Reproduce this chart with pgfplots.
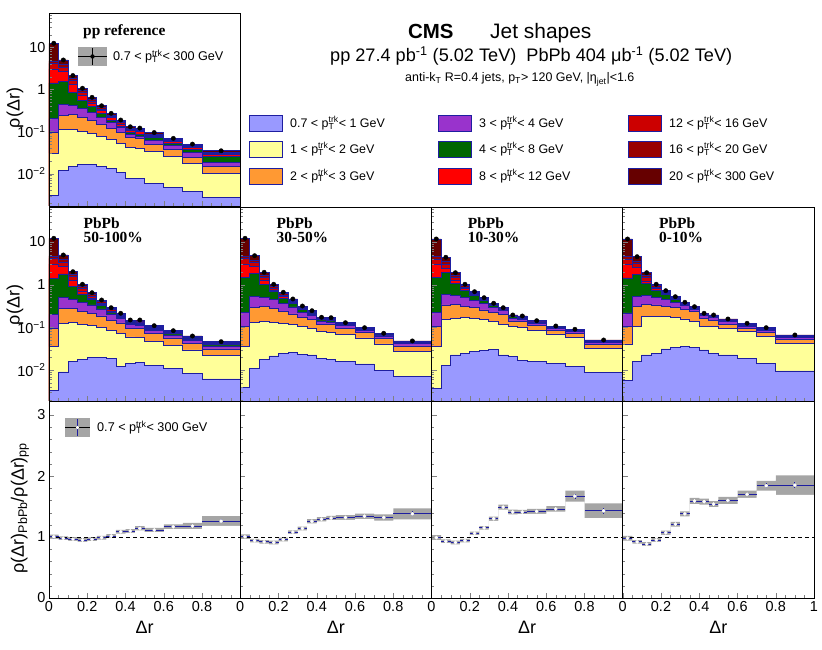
\documentclass[border=0pt]{standalone}
\usepackage{fontspec}
\setmainfont{Liberation Sans}
\newfontfamily\tms{Liberation Serif}
\usepackage{pgfplots}
\pgfplotsset{compat=1.18}
\usepackage{pgfplotstable}

\definecolor{c1}{RGB}{153,153,255}
\definecolor{c2}{RGB}{255,255,153}
\definecolor{c3}{RGB}{255,153,51}
\definecolor{c4}{RGB}{153,51,204}
\definecolor{c5}{RGB}{0,102,0}
\definecolor{c6}{RGB}{255,0,0}
\definecolor{c7}{RGB}{204,0,0}
\definecolor{c8}{RGB}{153,0,0}
\definecolor{c9}{RGB}{102,0,0}
\definecolor{nav}{RGB}{30,30,160}
\definecolor{syst}{RGB}{165,165,165}

\newcommand{\fs}[1]{\fontsize{#1}{#1}\selectfont}
\newcommand{\ptrk}{p\rlap{\textsubscript{T}}\textsuperscript{trk}}

% pp reference: cumulative stack tops L1..L9
\pgfplotstableread{
x xc L1 L2 L3 L4 L5 L6 L7 L8 L9
0 nan 0.0005 0.0005 0.0005 0.0005 0.0005 0.0005 0.0005 0.0005 0.0005
0 0.025 0.00308 0.0308 0.0947 0.204 1.43 3.08 4.16 4.77 12.59
0.05 0.075 0.0121 0.1147 0.247 0.439 1.59 2.76 3.43 3.94 5.04
0.10 0.125 0.0151 0.1116 0.261 0.428 0.872 1.35 1.64 1.83 2.15
0.15 0.175 0.0164 0.1028 0.221 0.363 0.562 0.740 0.872 0.947 1.07
0.20 0.225 0.0164 0.0896 0.183 0.291 0.394 0.477 0.532 0.578 0.652
0.25 0.275 0.0151 0.0781 0.151 0.221 0.268 0.316 0.343 0.373 0.411
0.30 0.325 0.0132 0.0645 0.118 0.164 0.183 0.215 0.234 0.247 0.271
0.35 0.375 0.0109 0.0532 0.0973 0.1245 0.1316 0.151 0.164 0.173 0.188
0.40 0.425 0.00781 0.0416 0.0720 0.0872 0.0947 0.1057 0.1147 0.121 0.130
0.45 0.475 0.00760 0.0405 0.0681 0.0781 0.0872 0.100 0.1057 0.1116 0.121
0.50 0.55 0.00594 0.0334 0.0504 0.0610 0.0720 0.0781 0.0825 0.0872 0.0947
0.60 0.65 0.00464 0.0254 0.0373 0.0464 0.0532 0.0578 0.0610 0.0645 0.0689
0.70 0.75 0.00373 0.0178 0.0247 0.0325 0.0383 0.0416 0.0444 0.0469 0.0504
0.80 0.90 0.00276 0.0103 0.0151 0.0188 0.0261 0.0291 0.0308 0.0325 0.0349
1.00 nan 0.00276 0.0103 0.0151 0.0188 0.0261 0.0291 0.0308 0.0325 0.0349
1.00 nan 0.0005 0.0005 0.0005 0.0005 0.0005 0.0005 0.0005 0.0005 0.0005
}\pptab

% PbPb 50-100%
\pgfplotstableread{
x xc L1 L2 L3 L4 L5 L6 L7 L8 L9
0 nan 0.0005 0.0005 0.0005 0.0005 0.0005 0.0005 0.0005 0.0005 0.0005
0 0.025 0.00342 0.0353 0.0953 0.2026 1.374 3.05 4.11 4.70 12.2
0.05 0.075 0.00903 0.1247 0.2846 0.501 1.781 2.74 3.40 3.89 4.96
0.10 0.125 0.0163 0.1288 0.274 0.445 0.898 1.275 1.539 1.715 2.016
0.15 0.175 0.0179 0.1201 0.242 0.393 0.606 0.712 0.837 0.907 1.022
0.20 0.225 0.0195 0.1096 0.2116 0.335 0.450 0.478 0.532 0.577 0.650
0.25 0.275 0.0195 0.0984 0.185 0.270 0.326 0.338 0.367 0.398 0.438
0.30 0.325 0.0189 0.0869 0.149 0.206 0.229 0.242 0.257 0.273 0.289
0.35 0.375 0.01247 0.0727 0.1268 0.1616 0.175 0.184 0.193 0.204 0.214
0.40 0.425 0.01443 0.0596 0.0968 0.1169 0.1268 0.1316 0.1374 0.1427 0.149
0.45 0.475 0.01523 0.0580 0.0942 0.1108 0.1201 0.1268 0.1338 0.1412 0.149
0.50 0.55 0.01316 0.0480 0.0720 0.0846 0.0917 0.0958 0.1000 0.1050 0.1096
0.60 0.65 0.01102 0.0387 0.0565 0.0664 0.0720 0.0747 0.0776 0.0806 0.0837
0.70 0.75 0.00842 0.0296 0.0420 0.0493 0.0535 0.0556 0.0580 0.0603 0.0629
0.80 0.90 0.00619 0.0220 0.0312 0.0367 0.0398 0.0413 0.0429 0.0445 0.0463
1.00 nan 0.00619 0.0220 0.0312 0.0367 0.0398 0.0413 0.0429 0.0445 0.0463
1.00 nan 0.0005 0.0005 0.0005 0.0005 0.0005 0.0005 0.0005 0.0005 0.0005
}\pbAtab

% PbPb 30-50%
\pgfplotstableread{
x xc L1 L2 L3 L4 L5 L6 L7 L8 L9
0 nan 0.0005 0.0005 0.0005 0.0005 0.0005 0.0005 0.0005 0.0005 0.0005
0 0.025 0.00396 0.0353 0.1039 0.221 1.498 3.05 4.11 4.70 12.2
0.05 0.075 0.01102 0.1316 0.2957 0.521 1.849 2.640 3.275 3.75 4.78
0.10 0.125 0.0179 0.1360 0.3055 0.496 1.000 1.234 1.490 1.660 1.951
0.15 0.175 0.0214 0.1316 0.277 0.450 0.693 0.751 0.837 0.907 1.022
0.20 0.225 0.0247 0.1247 0.2357 0.363 0.488 0.526 0.565 0.612 0.664
0.25 0.275 0.0261 0.1169 0.206 0.3004 0.363 0.385 0.411 0.436 0.4625
0.30 0.325 0.0234 0.1050 0.1705 0.229 0.2626 0.2756 0.288 0.302 0.317
0.35 0.375 0.0226 0.0942 0.1531 0.190 0.206 0.2151 0.2245 0.236 0.246
0.40 0.425 0.0189 0.0823 0.1201 0.1412 0.1507 0.1556 0.1607 0.1669 0.1724
0.45 0.475 0.0179 0.0780 0.1169 0.1338 0.1427 0.149 0.1548 0.1616 0.1687
0.50 0.55 0.0157 0.0682 0.0968 0.1108 0.1169 0.1195 0.1227 0.1254 0.1288
0.60 0.65 0.0139 0.0565 0.0760 0.0869 0.0917 0.0932 0.0948 0.0968 0.0984
0.70 0.75 0.01005 0.0409 0.0550 0.0629 0.0664 0.0678 0.0693 0.0712 0.0727
0.80 0.90 0.00727 0.0273 0.0367 0.0418 0.0441 0.0450 0.0460 0.0473 0.0482
1.00 nan 0.00727 0.0273 0.0367 0.0418 0.0441 0.0450 0.0460 0.0473 0.0482
1.00 nan 0.0005 0.0005 0.0005 0.0005 0.0005 0.0005 0.0005 0.0005 0.0005
}\pbBtab

% PbPb 10-30%
\pgfplotstableread{
x xc L1 L2 L3 L4 L5 L6 L7 L8 L9
0 nan 0.0005 0.0005 0.0005 0.0005 0.0005 0.0005 0.0005 0.0005 0.0005
0 0.025 0.00375 0.0353 0.1039 0.221 1.498 2.940 3.955 4.525 11.76
0.05 0.075 0.01316 0.1548 0.335 0.589 1.931 2.422 3.004 3.44 4.38
0.10 0.125 0.0226 0.1633 0.3475 0.565 1.078 1.241 1.458 1.625 1.910
0.15 0.175 0.0247 0.1687 0.317 0.501 0.751 0.810 0.874 0.942 1.022
0.20 0.225 0.0270 0.1633 0.289 0.4335 0.568 0.596 0.622 0.653 0.686
0.25 0.275 0.0285 0.1548 0.2556 0.363 0.4335 0.448 0.465 0.480 0.496
0.30 0.325 0.0307 0.1360 0.2257 0.2957 0.335 0.342 0.351 0.359 0.367
0.35 0.375 0.0226 0.1201 0.2026 0.2447 0.2654 0.271 0.277 0.283 0.289
0.40 0.425 0.0206 0.1039 0.1412 0.166 0.177 0.181 0.1859 0.190 0.1952
0.45 0.475 0.01724 0.0984 0.1360 0.1556 0.166 0.1705 0.175 0.180 0.185
0.50 0.55 0.0157 0.0837 0.1108 0.1247 0.1316 0.1345 0.1374 0.1404 0.1435
0.60 0.65 0.01443 0.0701 0.0869 0.0968 0.1022 0.1033 0.1050 0.1061 0.1078
0.70 0.75 0.01247 0.0580 0.0720 0.0802 0.0846 0.0860 0.0874 0.0888 0.0903
0.80 0.90 0.00869 0.0317 0.0404 0.0450 0.0475 0.0483 0.0491 0.0499 0.0507
1.00 nan 0.00869 0.0317 0.0404 0.0450 0.0475 0.0483 0.0491 0.0499 0.0507
1.00 nan 0.0005 0.0005 0.0005 0.0005 0.0005 0.0005 0.0005 0.0005 0.0005
}\pbCtab

% PbPb 0-10%
\pgfplotstableread{
x xc L1 L2 L3 L4 L5 L6 L7 L8 L9
0 nan 0.0005 0.0005 0.0005 0.0005 0.0005 0.0005 0.0005 0.0005 0.0005
0 0.025 0.00586 0.0409 0.1078 0.2175 1.435 2.940 3.955 4.525 11.76
0.05 0.075 0.0157 0.1078 0.3055 0.5236 1.715 2.501 3.103 3.55 4.525
0.10 0.125 0.0226 0.178 0.3475 0.550 1.050 1.221 1.458 1.625 1.910
0.15 0.175 0.0247 0.178 0.335 0.515 0.751 0.810 0.874 0.942 1.022
0.20 0.225 0.0312 0.178 0.3055 0.445 0.583 0.6155 0.650 0.686 0.724
0.25 0.275 0.0342 0.1724 0.289 0.389 0.4575 0.4726 0.491 0.507 0.5236
0.30 0.325 0.0353 0.1573 0.2654 0.3205 0.351 0.359 0.3687 0.377 0.387
0.35 0.375 0.0335 0.1360 0.2331 0.2669 0.2846 0.289 0.294 0.3004 0.3055
0.40 0.425 0.0296 0.1078 0.1633 0.187 0.1994 0.2026 0.206 0.2104 0.214
0.45 0.475 0.0247 0.1039 0.149 0.1687 0.180 0.184 0.187 0.191 0.1952
0.50 0.55 0.0226 0.0953 0.1201 0.1353 0.1427 0.1458 0.1498 0.1531 0.1573
0.60 0.65 0.0189 0.0793 0.0953 0.1061 0.1120 0.1151 0.1182 0.1214 0.1247
0.70 0.75 0.01443 0.0606 0.0768 0.0846 0.0893 0.0912 0.0937 0.0958 0.0984
0.80 0.90 0.00953 0.0424 0.0527 0.0580 0.0612 0.0626 0.0636 0.0650 0.0664
1.00 nan 0.00953 0.0424 0.0527 0.0580 0.0612 0.0626 0.0636 0.0650 0.0664
1.00 nan 0.0005 0.0005 0.0005 0.0005 0.0005 0.0005 0.0005 0.0005 0.0005
}\pbDtab

% Ratios PbPb/pp: value y, stat. error es, systematic box hi/lo
\pgfplotstableread{
xl xc xe y es hi lo
0 0.025 0.025 1.005 0.03 1.040 0.970
0.05 0.075 0.025 0.979 0.02 1.009 0.949
0.10 0.125 0.025 0.967 0.015 0.997 0.937
0.15 0.175 0.025 0.951 0.015 0.981 0.921
0.20 0.225 0.025 0.962 0.015 0.992 0.932
0.25 0.275 0.025 0.989 0.015 1.019 0.959
0.30 0.325 0.025 1.016 0.015 1.046 0.986
0.35 0.375 0.025 1.087 0.015 1.117 1.057
0.40 0.425 0.025 1.098 0.015 1.128 1.068
0.45 0.475 0.025 1.143 0.03 1.178 1.108
0.50 0.55 0.05 1.115 0.015 1.150 1.080
0.60 0.65 0.05 1.169 0.02 1.209 1.129
0.70 0.75 0.05 1.180 0.04 1.230 1.130
0.80 0.90 0.10 1.262 0.04 1.342 1.182
1.00 nan 0 1.262 0 1.342 1.182
}\rAtab
\pgfplotstableread{
xl xc xe y es hi lo
0 0.025 0.025 1.005 0.02 1.045 0.965
0.05 0.075 0.025 0.94 0.015 0.97 0.91
0.10 0.125 0.025 0.92 0.015 0.95 0.89
0.15 0.175 0.025 0.91 0.015 0.94 0.88
0.20 0.225 0.025 0.96 0.015 0.99 0.93
0.25 0.275 0.025 1.08 0.015 1.11 1.05
0.30 0.325 0.025 1.14 0.015 1.17 1.11
0.35 0.375 0.025 1.26 0.015 1.295 1.225
0.40 0.425 0.025 1.29 0.015 1.325 1.255
0.45 0.475 0.025 1.31 0.015 1.345 1.275
0.50 0.55 0.05 1.32 0.015 1.36 1.28
0.60 0.65 0.05 1.34 0.02 1.385 1.295
0.70 0.75 0.05 1.32 0.025 1.37 1.27
0.80 0.90 0.10 1.38 0.04 1.47 1.29
1.00 nan 0 1.38 0 1.47 1.29
}\rBtab
\pgfplotstableread{
xl xc xe y es hi lo
0 0.025 0.025 0.99 0.02 1.03 0.95
0.05 0.075 0.025 0.93 0.015 0.96 0.90
0.10 0.125 0.025 0.91 0.015 0.94 0.88
0.15 0.175 0.025 0.94 0.015 0.97 0.91
0.20 0.225 0.025 1.06 0.015 1.09 1.03
0.25 0.275 0.025 1.15 0.015 1.18 1.12
0.30 0.325 0.025 1.30 0.015 1.335 1.265
0.35 0.375 0.025 1.49 0.015 1.53 1.45
0.40 0.425 0.025 1.41 0.015 1.45 1.37
0.45 0.475 0.025 1.41 0.015 1.445 1.375
0.50 0.55 0.05 1.42 0.015 1.46 1.38
0.60 0.65 0.05 1.46 0.02 1.505 1.415
0.70 0.75 0.05 1.67 0.04 1.76 1.58
0.80 0.90 0.10 1.43 0.05 1.55 1.31
1.00 nan 0 1.43 0 1.55 1.31
}\rCtab
\pgfplotstableread{
xl xc xe y es hi lo
0 0.025 0.025 0.98 0.02 1.02 0.94
0.05 0.075 0.025 0.92 0.015 0.95 0.89
0.10 0.125 0.025 0.885 0.015 0.915 0.855
0.15 0.175 0.025 0.95 0.015 0.98 0.92
0.20 0.225 0.025 1.07 0.015 1.105 1.035
0.25 0.275 0.025 1.21 0.015 1.25 1.17
0.30 0.325 0.025 1.38 0.015 1.42 1.34
0.35 0.375 0.025 1.59 0.02 1.64 1.54
0.40 0.425 0.025 1.58 0.015 1.63 1.53
0.45 0.475 0.025 1.54 0.02 1.59 1.49
0.50 0.55 0.05 1.60 0.02 1.66 1.54
0.60 0.65 0.05 1.70 0.02 1.76 1.64
0.70 0.75 0.05 1.84 0.04 1.92 1.76
0.80 0.90 0.10 1.85 0.05 2.01 1.69
1.00 nan 0 1.85 0 2.01 1.69
}\rDtab

\pgfplotsset{
  jsStk/.style={const plot, draw=nav, line width=0.8pt, mark=none, forget plot},
  jsBase/.style={scale only axis, width=191.25bp, xmin=0, xmax=1,
    tick align=inside, xtick pos=left, ytick pos=left, axis on top,
    axis line style={line width=0.8pt},
    major tick length=5bp, minor tick length=2.5bp,
    xtick={0,0.2,0.4,0.6,0.8,1}, minor x tick num=3, xticklabels={},
    tick label style={font={\fs{14.5}}}},
  jsLogTicks/.style={ytick={0.01,0.1,1,10},
    minor ytick={0.002,0.003,0.004,0.005,0.006,0.007,0.008,0.009,0.02,0.03,0.04,0.05,0.06,0.07,0.08,0.09,0.2,0.3,0.4,0.5,0.6,0.7,0.8,0.9,2,3,4,5,6,7,8,9,20,30,40,50,60}},
  jsRat/.style={height=197bp, ymin=0, ymax=3.23, ytick={0,1,2,3},
    minor y tick num=4},
}

\newcommand{\stack}[1]{%
  \addplot[jsStk, fill=c9] table[x=x, y=L9] {#1};
  \addplot[jsStk, fill=c8] table[x=x, y=L8] {#1};
  \addplot[jsStk, fill=c7] table[x=x, y=L7] {#1};
  \addplot[jsStk, fill=c6] table[x=x, y=L6] {#1};
  \addplot[jsStk, fill=c5] table[x=x, y=L5] {#1};
  \addplot[jsStk, fill=c4] table[x=x, y=L4] {#1};
  \addplot[jsStk, fill=c3] table[x=x, y=L3] {#1};
  \addplot[jsStk, fill=c2] table[x=x, y=L2] {#1};
  \addplot[jsStk, fill=c1] table[x=x, y=L1] {#1};
  \addplot[only marks, mark=*, mark size=2.2bp, black] table[x=xc, y=L9] {#1};
}

\newcommand{\ratio}[1]{%
  \addplot[const plot, fill=syst, draw=none, forget plot] table[x=xl, y=hi] {#1} \closedcycle;
  \addplot[const plot, fill=white, draw=none, forget plot] table[x=xl, y=lo] {#1} \closedcycle;
  \addplot[black, line width=0.7pt, dash pattern=on 4bp off 3bp, forget plot] coordinates {(0,1) (1,1)};
  \addplot[only marks, mark=*, mark size=1.6bp, mark options={fill=white, draw=white},
    error bars/.cd, x dir=both, x explicit, y dir=both, y explicit, error mark=none,
    error bar style={color=nav, line width=0.8pt}]
    table[x=xc, y=y, x error=xe, y error=es] {#1};
}

\newcommand{\legbox}[4]{%
  \begin{scope}[shift={(#1bp,#2bp)}]
    \filldraw[fill=#3, draw=nav, line width=0.9pt] (0,-8bp) rectangle (33bp,8bp);
    \node[anchor=west, font={\fs{12.5}}, inner sep=0pt] at (41bp,0) {#4};
  \end{scope}}

\begin{document}
\begin{tikzpicture}
\useasboundingbox (0,0) rectangle (822bp,650bp);

% top row: pp reference
\begin{axis}[jsBase, ymode=log, jsLogTicks, height=193bp, ymin=0.0017, ymax=66,
  yticklabels={10\textsuperscript{−2},10\textsuperscript{−1},1,10},
  at={(49bp,444bp)}, anchor=south west]
\stack{\pptab}
\end{axis}

% middle row: PbPb
\begin{axis}[jsBase, ymode=log, jsLogTicks, height=194bp, ymin=0.00189, ymax=66,
  yticklabels={10\textsuperscript{−2},10\textsuperscript{−1},1,10},
  at={(49bp,249bp)}, anchor=south west]
\stack{\pbAtab}
\end{axis}
\begin{axis}[jsBase, ymode=log, jsLogTicks, height=194bp, ymin=0.00189, ymax=66,
  yticklabels={}, at={(240.25bp,249bp)}, anchor=south west]
\stack{\pbBtab}
\end{axis}
\begin{axis}[jsBase, ymode=log, jsLogTicks, height=194bp, ymin=0.00189, ymax=66,
  yticklabels={}, at={(431.5bp,249bp)}, anchor=south west]
\stack{\pbCtab}
\end{axis}
\begin{axis}[jsBase, ymode=log, jsLogTicks, height=194bp, ymin=0.00189, ymax=66,
  yticklabels={}, at={(622.75bp,249bp)}, anchor=south west]
\stack{\pbDtab}
\end{axis}

% bottom row: ratios
\begin{axis}[jsBase, jsRat, yticklabels={0,1,2,3}, xticklabels={0,0.2,0.4,0.6,0.8,{}},
  at={(49bp,52bp)}, anchor=south west]
\ratio{\rAtab}
\end{axis}
\begin{axis}[jsBase, jsRat, yticklabels={}, xticklabels={0,0.2,0.4,0.6,0.8,{}},
  at={(240.25bp,52bp)}, anchor=south west]
\ratio{\rBtab}
\end{axis}
\begin{axis}[jsBase, jsRat, yticklabels={}, xticklabels={0,0.2,0.4,0.6,0.8,{}},
  at={(431.5bp,52bp)}, anchor=south west]
\ratio{\rCtab}
\end{axis}
\begin{axis}[jsBase, jsRat, yticklabels={}, xticklabels={0,0.2,0.4,0.6,0.8,1},
  at={(622.75bp,52bp)}, anchor=south west]
\ratio{\rDtab}
\end{axis}

% axis titles
\node[rotate=90, font={\fs{18}}] at (15bp,542bp) {ρ(Δr)};
\node[rotate=90, font={\fs{18}}] at (15bp,345bp) {ρ(Δr)};
\node[rotate=90, font={\fs{18}}] at (20bp,142bp) {ρ(Δr)\textsubscript{PbPb}/ρ(Δr)\textsubscript{pp}};
\node[font={\fs{18}}] at (144.6bp,23bp) {Δr};
\node[font={\fs{18}}] at (335.9bp,23bp) {Δr};
\node[font={\fs{18}}] at (527.1bp,23bp) {Δr};
\node[font={\fs{18}}] at (718.4bp,23bp) {Δr};

% panel labels
\node[anchor=west, inner sep=0pt, font={\tms\bfseries\fs{15.5}}] at (83bp,618bp) {pp reference};
\node[anchor=base west, inner sep=0pt, font={\tms\bfseries\fs{15.5}}] at (83.5bp,421bp) {PbPb};
\node[anchor=base west, inner sep=0pt, font={\tms\bfseries\fs{15.5}}] at (83.5bp,407bp) {50-100\%};
\node[anchor=base west, inner sep=0pt, font={\tms\bfseries\fs{15.5}}] at (276.5bp,421bp) {PbPb};
\node[anchor=base west, inner sep=0pt, font={\tms\bfseries\fs{15.5}}] at (276.5bp,407bp) {30-50\%};
\node[anchor=base west, inner sep=0pt, font={\tms\bfseries\fs{15.5}}] at (467.7bp,421bp) {PbPb};
\node[anchor=base west, inner sep=0pt, font={\tms\bfseries\fs{15.5}}] at (467.7bp,407bp) {10-30\%};
\node[anchor=base west, inner sep=0pt, font={\tms\bfseries\fs{15.5}}] at (659bp,421bp) {PbPb};
\node[anchor=base west, inner sep=0pt, font={\tms\bfseries\fs{15.5}}] at (659bp,407bp) {0-10\%};

% pp legend
\fill[syst] (78bp,584bp) rectangle (107bp,603bp);
\draw[black, line width=0.9pt] (78bp,593.5bp) -- (107bp,593.5bp);
\draw[black, line width=0.9pt] (92.5bp,585bp) -- (92.5bp,602bp);
\fill[black] (92.5bp,593.5bp) circle (2.2bp);
\node[anchor=west, inner sep=0pt, font={\fs{12.7}}] at (113bp,593.5bp) {0.7 < \ptrk< 300 GeV};

% ratio legend
\fill[syst] (65bp,213bp) rectangle (90bp,232bp);
\draw[black, line width=0.9pt] (65bp,222.5bp) -- (90bp,222.5bp);
\draw[nav, line width=0.9pt] (77.5bp,214bp) -- (77.5bp,231bp);
\fill[white] (77.5bp,222.5bp) circle (1.6bp);
\node[anchor=west, inner sep=0pt, font={\fs{12.7}}] at (97bp,222.5bp) {0.7 < \ptrk< 300 GeV};

% title
\node[anchor=base west, font={\bfseries\fs{20.5}}, inner sep=0pt] at (408bp,611.7bp) {CMS};
\node[anchor=base west, font={\fs{21}}, inner sep=0pt] at (490bp,611.7bp) {Jet shapes};
\node[anchor=base west, font={\fs{18.2}}, inner sep=0pt] at (330bp,588bp) {pp 27.4 pb\textsuperscript{-1} (5.02 TeV)\ \ PbPb 404 μb\textsuperscript{-1} (5.02 TeV)};
\node[anchor=base west, font={\fs{12.5}}, inner sep=0pt] at (405bp,568bp) {anti-k\textsubscript{T} R=0.4 jets, p\textsubscript{T}> 120 GeV, |η\textsubscript{jet}|<1.6};

% legend of the stacked pT bins
\legbox{249}{526.7}{c1}{0.7 < \ptrk< 1 GeV}
\legbox{249}{500.7}{c2}{1 < \ptrk< 2 GeV}
\legbox{249}{474}{c3}{2 < \ptrk< 3 GeV}
\legbox{438}{526.7}{c4}{3 < \ptrk< 4 GeV}
\legbox{438}{500.7}{c5}{4 < \ptrk< 8 GeV}
\legbox{438}{474}{c6}{8 < \ptrk< 12 GeV}
\legbox{628}{526.7}{c7}{12 < \ptrk< 16 GeV}
\legbox{628}{500.7}{c8}{16 < \ptrk< 20 GeV}
\legbox{628}{474}{c9}{20 < \ptrk< 300 GeV}
\end{tikzpicture}
\end{document}
